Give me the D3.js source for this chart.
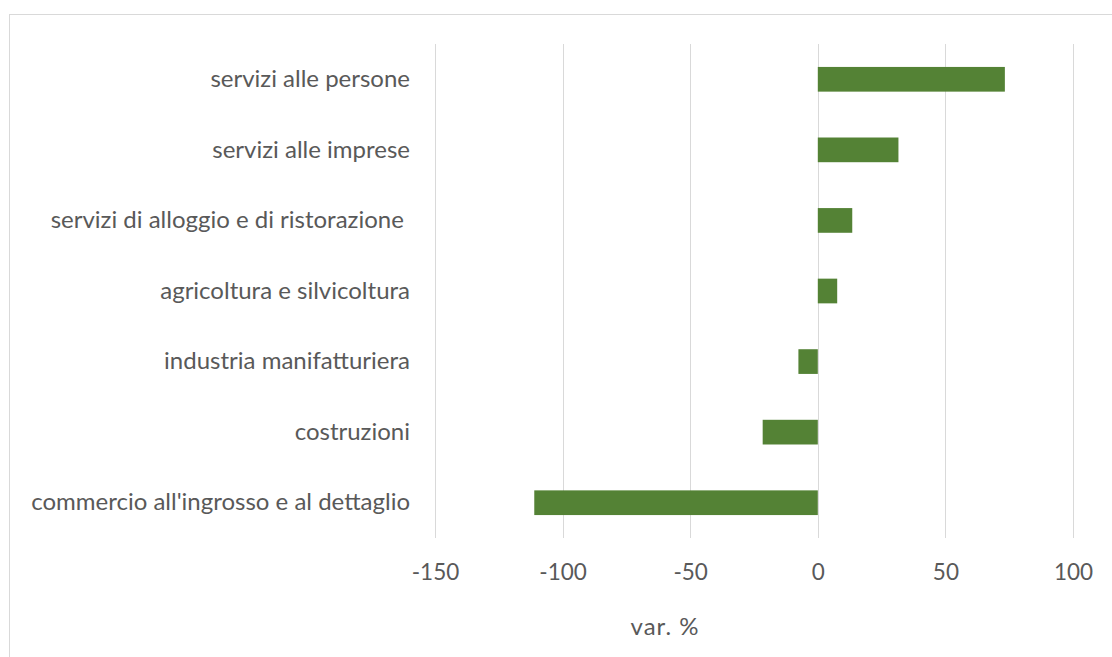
<!DOCTYPE html>
<html>
<head>
<meta charset="utf-8">
<script src="https://cdn.jsdelivr.net/npm/d3@7"></script>
<style>
html,body{margin:0;padding:0;background:#fff;}
svg text{font-family:Lato,"Open Sans",sans-serif;fill:#595959;white-space:pre;}
</style>
</head>
<body>
<svg id="chart" width="1112" height="657"></svg>
<script>
const categories = [
  "servizi alle persone",
  "servizi alle imprese",
  "servizi di alloggio e di ristorazione ",
  "agricoltura e silvicoltura",
  "industria manifatturiera",
  "costruzioni",
  "commercio all'ingrosso e al dettaglio"
];
const values = [73.3, 31.6, 13.5, 7.6, -7.6, -21.6, -111.1];
const tickValues = [-150, -100, -50, 0, 50, 100];
const axisTitle = "var. %";

const svg = d3.select("#chart");
svg.append("rect").attr("x", 9.5).attr("y", 14.5).attr("width", 1120).attr("height", 660)
  .attr("fill", "#fff").attr("stroke", "#d9d9d9").attr("stroke-width", 1);

const x = d3.scaleLinear().domain([-150, 100]).range([435, 1073]);
const y = d3.scaleBand().domain(categories).range([44, 538]).paddingInner(0.65).paddingOuter(0.325);

// gridlines
svg.append("g").selectAll("line").data(tickValues).join("line")
  .attr("x1", d => Math.round(x(d)) + 0.5).attr("x2", d => Math.round(x(d)) + 0.5)
  .attr("y1", 44).attr("y2", 538)
  .attr("stroke", "#d9d9d9").attr("stroke-width", 1);

// bars
svg.append("g").selectAll("rect").data(values).join("rect")
  .attr("x", d => x(Math.min(0, d)))
  .attr("width", d => Math.abs(x(d) - x(0)))
  .attr("y", (d, i) => y(categories[i]))
  .attr("height", y.bandwidth())
  .attr("fill", "#548235");

// x axis labels
const xAxis = d3.axisBottom(x).tickValues(tickValues).tickSize(0).tickPadding(0).tickFormat(d => String(d));
const gx = svg.append("g").attr("transform", "translate(0,580)").call(xAxis);
gx.select(".domain").remove();
gx.selectAll("text").attr("font-size", 22.5).attr("dy", "0")
  .style("font-family", "Lato, 'Open Sans', sans-serif").attr("fill", "#595959");

// y axis labels
const yAxis = d3.axisLeft(y).tickSize(0).tickPadding(0);
const gy = svg.append("g").attr("transform", "translate(410,0)").call(yAxis);
gy.select(".domain").remove();
gy.selectAll("text").attr("font-size", 24)
  .style("font-family", "Lato, 'Open Sans', sans-serif").attr("fill", "#595959");

// axis title
svg.append("text").attr("x", 665).attr("y", 635).attr("text-anchor", "middle")
  .attr("font-size", 24).attr("letter-spacing", 1).text(axisTitle);
</script>
</body>
</html>
